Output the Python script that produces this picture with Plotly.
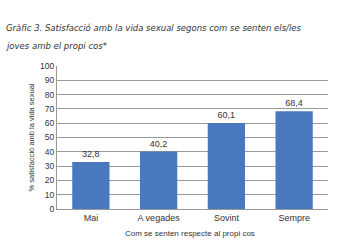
import plotly.graph_objects as go

categories = ["Mai", "A vegades", "Sovint", "Sempre"]
values = [32.8, 40.2, 60.1, 68.4]
labels = ["32,8", "40,2", "60,1", "68,4"]
y_ticks = [0, 10, 20, 30, 40, 50, 60, 70, 80, 90, 100]

title_line1 = "Gràfic 3. Satisfacció amb la vida sexual segons com se senten els/les"
title_line2 = "joves amb el propi cos*"
x_title = "Com se senten respecte al propi cos"
y_title = "% satisfacció amb la vida sexual"

W, H = 342, 243
ML, MR, MT, MB = 57, 14, 66, 34
pw = W - ML - MR
ph = H - MT - MB

def px_to_paper_x(px):
    return (px - ML) / pw

def py_to_paper_y(py):
    return (H - MB - py) / ph

fig = go.Figure()
fig.add_trace(go.Bar(
    x=categories, y=values, text=labels, textposition="outside",
    marker=dict(color="#4A78BE", line=dict(width=0)),
    textfont=dict(family="Liberation Sans", size=9, color="#333"),
    width=0.55, cliponaxis=False,
))

fig.update_layout(
    width=W, height=H,
    margin=dict(l=ML, r=MR, t=MT, b=MB),
    paper_bgcolor="white", plot_bgcolor="white",
    showlegend=False,
    font=dict(family="Liberation Sans", size=9, color="#333"),
    xaxis=dict(showline=True, linecolor="#999", linewidth=1,
               tickfont=dict(size=9, color="#333")),
    yaxis=dict(range=[0, 100], tickvals=y_ticks, showgrid=True,
               gridcolor="#9a9a9a", gridwidth=1, showline=True,
               linecolor="#999", tickfont=dict(size=8.5, color="#333"),
               title=dict(text=y_title, font=dict(size=7.5, color="#333"),
                          standoff=4)),
)

fig.add_annotation(text="<i>" + title_line1 + "</i>", xref="paper", yref="paper",
                   x=px_to_paper_x(4), y=py_to_paper_y(28),
                   xanchor="left", yanchor="middle", showarrow=False,
                   font=dict(family="DejaVu Sans", size=8.5, color="#333"))
fig.add_annotation(text="<i>" + title_line2 + "</i>", xref="paper", yref="paper",
                   x=px_to_paper_x(4), y=py_to_paper_y(46),
                   xanchor="left", yanchor="middle", showarrow=False,
                   font=dict(family="DejaVu Sans", size=8.5, color="#333"))
fig.add_annotation(text=x_title, xref="paper", yref="paper",
                   x=px_to_paper_x(190), y=py_to_paper_y(233),
                   xanchor="center", yanchor="middle", showarrow=False,
                   font=dict(size=8, color="#333"))

fig.write_html("out.html")
